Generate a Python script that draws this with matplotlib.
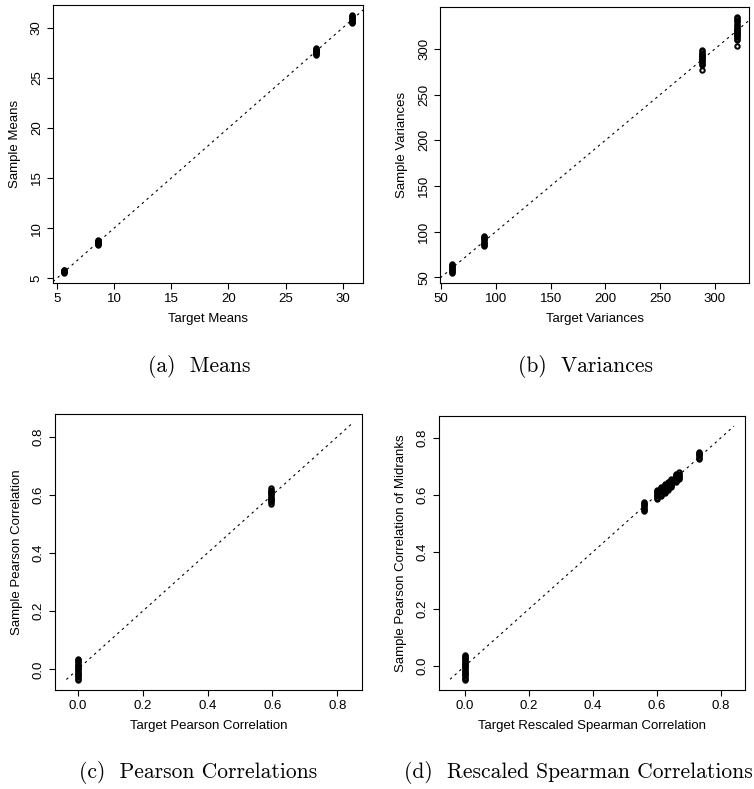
import matplotlib
matplotlib.use("Agg")
import matplotlib.pyplot as plt

W, H = 754, 789

# (a) means
mean_targets = [5.67, 8.58, 27.62, 30.75]
mean_samples = [
    [5.56, 5.61, 5.66, 5.70, 5.75, 5.80, 5.85],
    [8.32, 8.39, 8.46, 8.52, 8.58, 8.64, 8.70, 8.77, 8.86],
    [27.32, 27.39, 27.47, 27.54, 27.61, 27.67, 27.73, 27.80, 27.88, 27.96],
    [30.45, 30.53, 30.61, 30.69, 30.77, 30.85, 30.92, 31.00, 31.08, 31.15, 31.23],
]

# (b) variances
var_targets = [59.7, 89.5, 287.9, 320.5]
var_samples = [
    [54.6, 55.8, 57.0, 58.1, 59.3, 60.4, 61.6, 62.7, 63.7, 64.6],
    [84.3, 85.5, 86.7, 87.9, 89.1, 90.3, 91.5, 92.7, 93.9, 95.0],
    [276.5, 282.8, 284.0, 285.2, 286.4, 287.6, 288.8, 290.0, 291.2, 292.4,
     293.6, 294.8, 296.0, 297.3, 298.9],
    [303.6, 310.2, 311.4, 312.6, 313.8, 315.0, 316.2, 317.4, 318.6, 319.8,
     321.0, 322.2, 323.4, 324.8, 326.5, 328.5, 330.3, 332.0, 333.6, 335.1],
]

# (c) pearson correlations
pear_targets = [0.0, 0.597]
pear_samples = [
    [-0.036, -0.032, -0.028, -0.024, -0.020, -0.016, -0.012, -0.008, -0.004, 0.000,
     0.004, 0.008, 0.012, 0.016, 0.020, 0.024, 0.028, 0.032, 0.035],
    [0.570, 0.574, 0.578, 0.582, 0.586, 0.590, 0.594, 0.598, 0.602, 0.606,
     0.610, 0.614, 0.618, 0.623],
]
pear_line = [-0.035, 0.842]

# (d) rescaled spearman correlations
spear_targets = [0.0, 0.558, 0.601, 0.613, 0.624, 0.634, 0.644, 0.660, 0.667, 0.732]
spear_samples = [
    [-0.048, -0.044, -0.040, -0.036, -0.032, -0.028, -0.024, -0.020, -0.016, -0.012,
     -0.008, -0.004, 0.000, 0.004, 0.008, 0.012, 0.016, 0.020, 0.024, 0.028,
     0.032, 0.035, 0.038],
    [0.543, 0.547, 0.551, 0.555, 0.559, 0.563, 0.567, 0.571, 0.574],
    [0.586, 0.590, 0.594, 0.598, 0.602, 0.606, 0.610, 0.614, 0.618],
    [0.596, 0.600, 0.604, 0.608, 0.612, 0.616, 0.620, 0.624, 0.628],
    [0.606, 0.610, 0.614, 0.618, 0.622, 0.626, 0.630, 0.633, 0.636],
    [0.617, 0.621, 0.625, 0.629, 0.633, 0.637, 0.641, 0.645],
    [0.627, 0.631, 0.635, 0.639, 0.643, 0.647, 0.651, 0.655],
    [0.645, 0.649, 0.653, 0.657, 0.661, 0.665, 0.668, 0.671],
    [0.654, 0.658, 0.662, 0.666, 0.670, 0.674, 0.678],
    [0.726, 0.730, 0.734, 0.738, 0.742, 0.745, 0.748],
]
spear_line = [-0.046, 0.840]

plt.rcParams["font.family"] = ["Liberation Sans", "DejaVu Sans"]
plt.rcParams["font.size"] = 9.5

fig = plt.figure(figsize=(W / 100, H / 100), dpi=100)


def make_axes(left, top, right, bottom):
    # pixel box -> figure fraction
    return fig.add_axes([left / W, 1 - bottom / H, (right - left) / W, (bottom - top) / H])


def style(ax, xticks, yticks, fmt, xlabel, ylabel):
    ax.set_xticks(xticks)
    ax.set_yticks(yticks)
    ax.set_xticklabels([fmt.format(v) for v in xticks])
    ax.set_yticklabels([fmt.format(v) for v in yticks])
    ax.tick_params(direction="out", length=4.3, width=0.8, pad=3, labelsize=9.5)
    ax.tick_params(axis="y", labelrotation=90)
    plt.setp(ax.get_yticklabels(), va="center")
    for sp in ax.spines.values():
        sp.set_linewidth(0.8)
    bb = ax.get_position()
    ax.set_xlabel(xlabel, va="center")
    ax.set_ylabel(ylabel, va="center")
    ax.xaxis.set_label_coords(0.5, -36 / (bb.height * H))
    ax.yaxis.set_label_coords(-38 / (bb.width * W), 0.5)


def scatter(ax, targets, samples):
    for t, s in zip(targets, samples):
        ax.plot([t] * len(s), s, "o", mfc="none", mec="black", ms=3.2, mew=1.4, zorder=3)


def freeze(ax):
    # R-style 4% padding, then lock the limits
    ax.margins(0.04)
    ax.autoscale_view()
    ax.set_xlim(ax.get_xlim())
    ax.set_ylim(ax.get_ylim())


dots = dict(color="black", lw=0.8, ls=(0, (2.2, 3.4)), zorder=2)

ax = make_axes(53, 5, 363, 283)
scatter(ax, mean_targets, mean_samples)
freeze(ax)
ax.axline((0, 0), slope=1, **dots)
style(ax, [5, 10, 15, 20, 25, 30], [5, 10, 15, 20, 25, 30], "{:g}",
      "Target Means", "Sample Means")

ax = make_axes(440.3, 6.7, 748.7, 283.3)
scatter(ax, var_targets, var_samples)
freeze(ax)
ax.axline((0, 0), slope=1, **dots)
style(ax, [50, 100, 150, 200, 250, 300], [50, 100, 150, 200, 250, 300], "{:g}",
      "Target Variances", "Sample Variances")

corr_ticks = [0.0, 0.2, 0.4, 0.6, 0.8]

ax = make_axes(55, 414.3, 362.3, 690)
scatter(ax, pear_targets, pear_samples)
ax.plot(pear_line, pear_line, **dots)
freeze(ax)
style(ax, corr_ticks, corr_ticks, "{:.1f}",
      "Target Pearson Correlation", "Sample Pearson Correlation")

ax = make_axes(438.7, 416, 745.3, 690)
scatter(ax, spear_targets, spear_samples)
ax.plot(spear_line, spear_line, **dots)
freeze(ax)
style(ax, corr_ticks, corr_ticks, "{:.1f}",
      "Target Rescaled Spearman Correlation", "Sample Pearson Correlation of Midranks")

cap = dict(family="cmr10", size=15.5, va="center")
fig.text(199 / W, 1 - 367 / H, "(a)  Means", ha="center", **cap)
fig.text(586 / W, 1 - 367 / H, "(b)  Variances", ha="center", **cap)
fig.text(198 / W, 1 - 773 / H, "(c)  Pearson Correlations", ha="center", **cap)
fig.text(404 / W, 1 - 773 / H, "(d)  Rescaled Spearman Correlations", ha="left", **cap)

fig.savefig("out.png", dpi=100)
